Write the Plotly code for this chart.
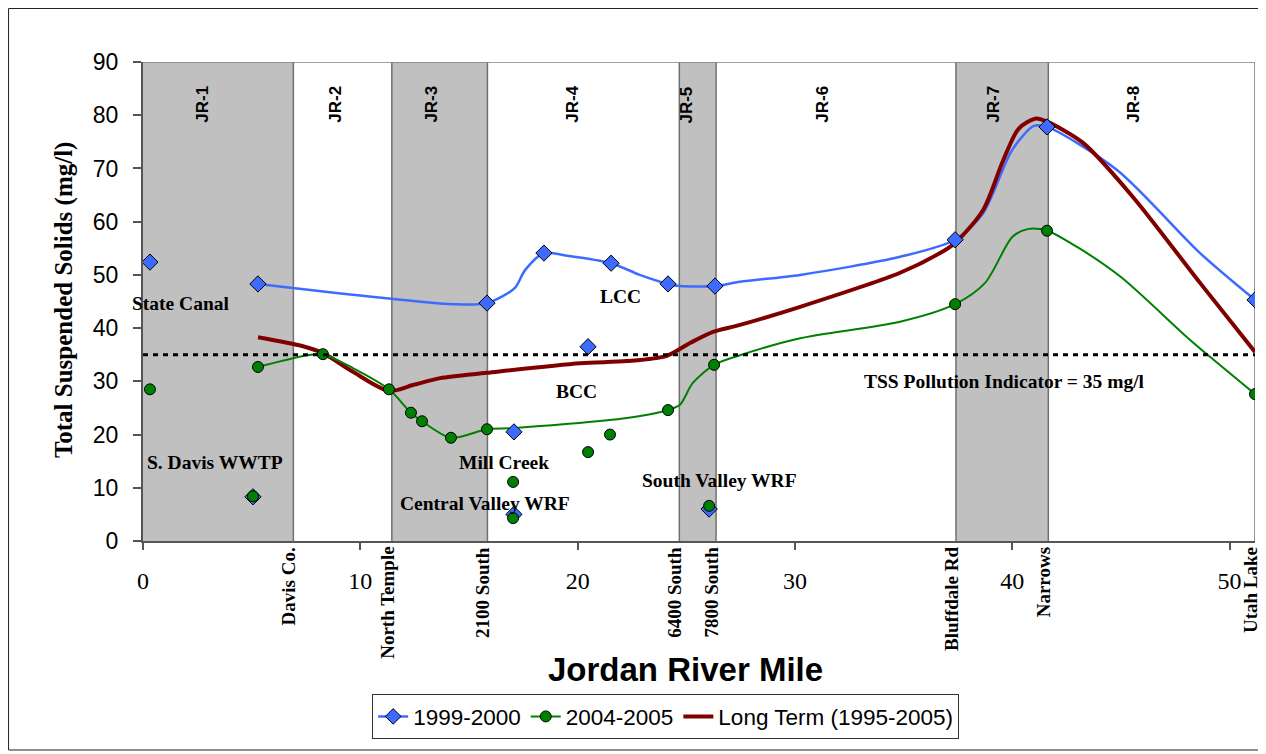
import plotly.graph_objects as go

# ---------------- data ----------------
# Reach boundaries (river mile) and their names
boundary_miles = [6.92, 11.45, 15.85, 24.68, 26.37, 37.41, 41.66, 51.17]
boundary_names = ["Davis Co.", "North Temple", "2100 South", "6400 South", "7800 South",
                  "Bluffdale Rd", "Narrows", "Utah Lake"]
reach_names = ["JR-1", "JR-2", "JR-3", "JR-4", "JR-5", "JR-6", "JR-7", "JR-8"]
reach_label_x = [2.72, 8.84, 13.30, 19.79, 25.03, 31.25, 39.12, 45.56]
reach_shaded = [True, False, True, False, True, False, True, False]

# 1999-2000 markers (all sampled points)
blue_pts_x = [0.32, 5.06, 5.29, 15.83, 17.07, 17.07, 18.45, 20.48, 21.54, 24.16, 26.05, 26.32, 37.37, 41.6, 51.17]
blue_pts_y = [52.4, 8.3, 48.3, 44.7, 20.5, 5.0, 54.1, 36.5, 52.2, 48.3, 6.0, 47.9, 56.6, 77.8, 45.3]
# 1999-2000 main-stem line
blue_line_x = [5.29, 14.27, 15.83, 17.10, 17.58, 18.45, 19.38, 21.54, 22.86, 24.16, 24.71, 26.32,
               27.47, 30.24, 34.84, 37.37, 38.66, 40.0, 41.0, 41.6, 44.82, 48.64, 51.17]
blue_line_y = [48.3, 44.5, 44.7, 47.5, 50.9, 54.1, 53.7, 52.2, 50.0, 48.3, 47.9, 47.9,
               48.7, 50.0, 53.4, 56.6, 61.6, 73.5, 78.0, 77.8, 69.7, 54.1, 45.3]

# 2004-2005 markers
green_pts_x = [0.32, 5.06, 5.29, 8.28, 11.32, 12.33, 12.84, 14.17, 15.83, 17.03, 17.03, 20.48, 21.49,
               24.16, 26.05, 26.28, 37.37, 41.6, 51.17]
green_pts_y = [28.5, 8.4, 32.7, 35.1, 28.5, 24.1, 22.5, 19.4, 21.0, 11.1, 4.3, 16.7, 20.0,
               24.6, 6.6, 33.1, 44.5, 58.3, 27.6]
# 2004-2005 main-stem line
green_line_x = [5.29, 7.56, 8.28, 9.66, 11.32, 12.33, 12.84, 14.17, 15.83, 17.03, 22.27, 24.16, 24.71,
                25.30, 26.28, 27.47, 30.24, 34.84, 37.37, 38.75, 40.0, 40.7, 41.6, 43.0, 45.0, 48.04,
                49.1, 51.17]
green_line_y = [32.7, 34.9, 35.1, 32.5, 28.5, 24.1, 22.5, 19.4, 21.0, 21.2, 23.1, 24.6, 25.6,
                29.7, 33.1, 34.9, 38.1, 41.2, 44.5, 48.5, 57.1, 58.6, 58.3, 55.2, 49.6, 38.3,
                34.6, 27.6]

# Long term (1995-2005)
red_line_x = [5.29, 7.36, 8.28, 9.66, 11.32, 12.42, 13.67, 15.83, 20.11, 22.27, 24.10, 25.17, 26.23,
              27.47, 30.24, 34.84, 36.68, 37.37, 38.66, 39.58, 40.3, 41.1, 41.6, 43.26, 45.56,
              48.64, 51.17]
red_line_y = [38.3, 36.6, 35.3, 31.8, 28.2, 29.3, 30.6, 31.6, 33.4, 33.8, 34.8, 37.2, 39.3,
              40.6, 44.0, 50.4, 54.1, 56.0, 62.2, 71.5, 77.5, 79.4, 78.8, 74.8, 64.6,
              48.5, 35.5]

tss_indicator = 35

# Text labels on the chart (x mile, y value, text)
label_text = ["State Canal", "S. Davis WWTP", "Mill Creek", "Central Valley WRF", "LCC", "BCC",
              "South Valley WRF", "TSS Pollution Indicator = 35 mg/l"]
label_x = [1.73, 3.29, 16.59, 15.76, 21.95, 19.97, 26.53, 39.65]
label_y = [44.7, 14.7, 14.8, 7.1, 46.0, 28.0, 11.3, 29.9]

x_ticks = [0, 10, 20, 30, 40, 50]

# ---------------- styles ----------------
BLUE = "#3D6BFF"
GREEN = "#008000"
RED = "#800000"
SERIF = "Times New Roman, Liberation Serif, serif"
SANS = "Arial, Liberation Sans, sans-serif"
XMAX = boundary_miles[-1]

fig = go.Figure()

fig.add_trace(go.Scatter(x=blue_line_x, y=blue_line_y, mode="lines", showlegend=False,
                         line=dict(color=BLUE, width=2.5, shape="spline", smoothing=0.8),
                         hoverinfo="skip"))
fig.add_trace(go.Scatter(x=red_line_x, y=red_line_y, mode="lines", showlegend=False,
                         line=dict(color=RED, width=4, shape="spline", smoothing=0.8),
                         hoverinfo="skip"))
fig.add_trace(go.Scatter(x=green_line_x, y=green_line_y, mode="lines", showlegend=False,
                         line=dict(color=GREEN, width=2, shape="spline", smoothing=0.8),
                         hoverinfo="skip"))
fig.add_trace(go.Scatter(x=blue_pts_x, y=blue_pts_y, mode="markers", showlegend=False,
                         marker=dict(symbol="diamond", size=12.5, color=BLUE,
                                     line=dict(color="black", width=1))))
fig.add_trace(go.Scatter(x=green_pts_x, y=green_pts_y, mode="markers", showlegend=False,
                         marker=dict(symbol="circle", size=11, color=GREEN,
                                     line=dict(color="black", width=1))))

# legend entries
fig.add_trace(go.Scatter(x=[None], y=[None], mode="lines+markers", name="1999-2000",
                         line=dict(color=BLUE, width=2.5),
                         marker=dict(symbol="diamond", size=12, color=BLUE, line=dict(color="black", width=1))))
fig.add_trace(go.Scatter(x=[None], y=[None], mode="lines+markers", name="2004-2005",
                         line=dict(color=GREEN, width=2),
                         marker=dict(symbol="circle", size=11, color=GREEN, line=dict(color="black", width=1))))
fig.add_trace(go.Scatter(x=[None], y=[None], mode="lines", name="Long Term (1995-2005)",
                         line=dict(color=RED, width=4)))

shapes = []
edges = [0] + boundary_miles
for i, shaded in enumerate(reach_shaded):
    if shaded:
        shapes.append(dict(type="rect", xref="x", yref="y", x0=edges[i], x1=edges[i + 1], y0=0, y1=90,
                           fillcolor="#C0C0C0", line=dict(width=0), layer="below"))
for b in boundary_miles:
    shapes.append(dict(type="line", xref="x", yref="y", x0=b, x1=b, y0=0, y1=90,
                       line=dict(color="#707070", width=1.5), layer="below"))
# top border of plot area
shapes.append(dict(type="line", xref="x", yref="y", x0=0, x1=XMAX, y0=90, y1=90,
                   line=dict(color="#808080", width=1.5), layer="below"))
# TSS pollution indicator
shapes.append(dict(type="line", xref="x", yref="y", x0=0, x1=XMAX, y0=tss_indicator, y1=tss_indicator,
                   line=dict(color="black", width=3, dash="5px,5px")))
# outer chart frame
shapes.append(dict(type="rect", xref="paper", yref="paper", x0=-0.1209, x1=1.0072, y0=-0.4363, y1=1.1117,
                   line=dict(color="#222222", width=1), fillcolor="rgba(0,0,0,0)", layer="below"))

annotations = []
for name, lx in zip(reach_names, reach_label_x):
    annotations.append(dict(x=lx, y=82, xref="x", yref="y", text=name, showarrow=False, textangle=-90,
                            font=dict(family=SANS, size=17, color="black", weight="bold"),
                            xanchor="center", yanchor="middle"))
for name, b in zip(boundary_names, boundary_miles):
    annotations.append(dict(x=b, y=0, xref="x", yref="paper", text=name, showarrow=False, textangle=-90,
                            font=dict(family=SERIF, size=19, color="black", weight="bold"),
                            xanchor="center", yanchor="top", xshift=-5, yshift=-4))
for t, lx, ly in zip(label_text, label_x, label_y):
    annotations.append(dict(x=lx, y=ly, xref="x", yref="y", text=t, showarrow=False,
                            font=dict(family=SERIF, size=19.5, color="black", weight="bold"),
                            xanchor="center", yanchor="middle"))
annotations.append(dict(x=-0.071, y=0.503, xref="paper", yref="paper", text="Total Suspended Solids (mg/l)",
                        showarrow=False, textangle=-90,
                        font=dict(family=SERIF, size=25, color="black", weight="bold"),
                        xanchor="center", yanchor="middle"))
annotations.append(dict(x=0.488, y=-0.269, xref="paper", yref="paper", text="Jordan River Mile",
                        showarrow=False, font=dict(family=SANS, size=33, color="black", weight="bold"),
                        xanchor="center", yanchor="middle"))

# The page adds an 8 px body margin at the top-left, so the figure is 8 px smaller.
fig.update_layout(
    width=1258, height=746,
    margin=dict(l=135, r=11, t=54, b=213),
    paper_bgcolor="white", plot_bgcolor="white",
    shapes=shapes, annotations=annotations,
    xaxis=dict(range=[0, XMAX], tickvals=x_ticks, ticks="outside", ticklen=7, tickwidth=1.5,
               tickcolor="#555555", showgrid=False, zeroline=False, showline=True,
               linecolor="#555555", linewidth=2, ticklabelstandoff=10,
               tickfont=dict(family=SERIF, size=24, color="black")),
    yaxis=dict(range=[0, 90], dtick=10, ticks="outside", ticklen=8, tickwidth=1.5,
               tickcolor="#555555", showgrid=False, zeroline=False, showline=True,
               linecolor="#555555", linewidth=2, ticklabelstandoff=10,
               tickfont=dict(family=SANS, size=23, color="black")),
    legend=dict(orientation="h", x=0.47, y=-0.367, xanchor="center", yanchor="middle",
                bordercolor="#333333", borderwidth=1, bgcolor="white",
                font=dict(family=SANS, size=22.5, color="black"), itemwidth=30,
                tracegroupgap=0),
    showlegend=True,
)

fig.write_html("out.html")
